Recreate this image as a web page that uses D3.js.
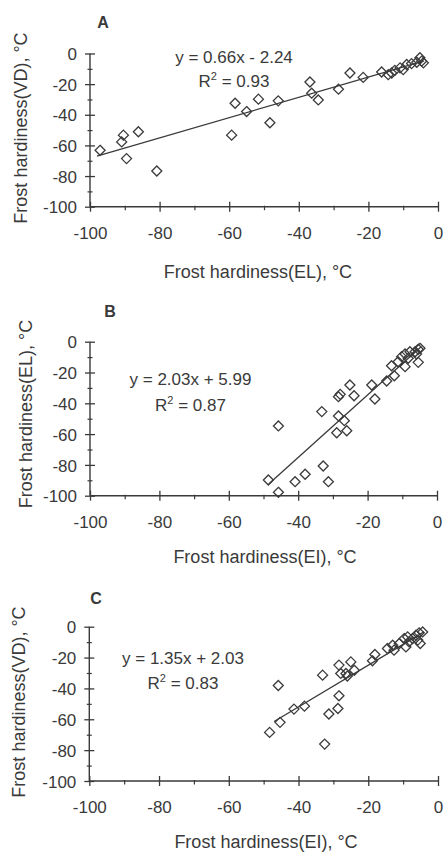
<!DOCTYPE html>
<html><head><meta charset="utf-8">
<script src="https://cdn.jsdelivr.net/npm/d3@7"></script>
<style>
body{margin:0;background:#fff;}
svg{display:block;font-family:"Liberation Sans",Arial,sans-serif;}
</style></head>
<body><svg id="c" width="446" height="852"></svg>
<script>
// ---- data ----
const panelLabels = ["A","B","C"];
const xTitles = ["Frost hardiness(EL), \u00B0C","Frost hardiness(EI), \u00B0C","Frost hardiness(EI), \u00B0C"];
const yTitles = ["Frost hardiness(VD), \u00B0C","Frost hardiness(EL), \u00B0C","Frost hardiness(VD), \u00B0C"];
const xTickValues = [-100,-80,-60,-40,-20,0];
const yTickValues = [0,-20,-40,-60,-80,-100];
const slopes = [0.66, 2.03, 1.35];
const intercepts = [-2.24, 5.99, 2.03];
const eqTexts = ["y = 0.66x - 2.24","y = 2.03x + 5.99","y = 1.35x + 2.03"];
const r2Values = ["0.93","0.87","0.83"];
const fitStart = [-98, -48.5, -47];
const fitEnd = [-4, -4.5, -4];

const aX = [-97.1,-90.4,-90.9,-89.5,-86.1,-80.8,-59.3,-58.3,-55.0,-51.6,-45.9,-48.3,-36.8,-36.3,-34.4,-28.6,-25.3,-21.5,-16.2,-14.3,-12.4,-10.9,-9.0,-7.6,-6.1,-5.2,-4.7,-4.2,-13.3,-10.0];
const aY = [-63.2,-53.3,-57.7,-68.6,-51.1,-76.7,-53.3,-32.5,-37.9,-29.8,-30.9,-45.2,-18.6,-25.9,-30.3,-23.3,-12.7,-15.6,-12.1,-13.8,-11.0,-9.4,-7.2,-6.6,-5.7,-2.8,-5.0,-6.1,-12.7,-10.5];

const bX = [-48.6,-45.7,-45.7,-40.9,-38.0,-32.8,-31.3,-33.2,-28.9,-26.0,-28.4,-26.7,-28.4,-27.9,-25.1,-23.9,-18.8,-17.9,-14.5,-13.1,-12.3,-9.2,-5.4,-11.2,-10.2,-9.2,-8.3,-7.8,-6.3,-5.4,-4.9,-5.9];
const bY = [-89.8,-97.8,-54.7,-90.9,-86.1,-80.7,-90.9,-45.4,-59.1,-57.8,-48.2,-51.3,-35.7,-34.2,-28.1,-35.1,-28.1,-37.2,-25.5,-15.6,-22.1,-16.2,-13.4,-13.0,-9.7,-8.0,-10.8,-6.5,-6.5,-4.9,-4.3,-8.0];

const cX = [-48.3,-45.3,-45.8,-41.3,-38.3,-32.5,-31.3,-28.7,-28.4,-33.1,-28.4,-27.9,-26.4,-26.0,-25.0,-24.0,-18.8,-18.1,-14.5,-12.6,-9.2,-5.1,-13.0,-11.1,-9.7,-8.7,-7.3,-6.3,-5.4,-4.4,-5.8,-8.3];
const cY = [-68.5,-62.0,-38.1,-53.4,-51.5,-76.1,-56.6,-53.0,-44.8,-31.4,-24.9,-30.3,-30.3,-32.0,-22.8,-28.2,-22.1,-18.0,-14.1,-15.2,-13.1,-10.9,-12.0,-10.9,-7.7,-6.6,-7.7,-5.5,-4.0,-3.4,-8.7,-9.8];

const xsData = [aX, bX, cX];
const ysData = [aY, bY, cY];

// ---- layout ----
const frames = [
  {l:90, r:438, t:53.5, b:206.7, lab:[103,28], eq:[234,63], r2y:87, xt:[258,278], yt:[27,128]},
  {l:90, r:437, t:341.7, b:495.7, lab:[110,317], eq:[190.5,385], r2y:410.7, xt:[265,563], yt:[32,414]},
  {l:89.3, r:438, t:626.7, b:781, lab:[96,604], eq:[183,664], r2y:689, xt:[266,848], yt:[25,702]}
];
const ink = "#3a3a3a";
const svg = d3.select("#c");

frames.forEach((f,i)=>{
  const x = d3.scaleLinear().domain([-100,0]).range([f.l,f.r]);
  const y = d3.scaleLinear().domain([-100,0]).range([f.b,f.t]);
  const g = svg.append("g");

  // minor ticks
  const yMinor = g.append("g").attr("transform",`translate(${f.l},0)`)
    .call(d3.axisLeft(y).tickValues(d3.range(-90,0,20)).tickSize(3).tickFormat(""));
  yMinor.select(".domain").remove();
  yMinor.selectAll(".tick line").attr("x1",2.5).attr("x2",-2.5).attr("stroke",ink).attr("stroke-width",1.2);
  const xMinor = g.append("g").attr("transform",`translate(0,${f.b})`)
    .call(d3.axisBottom(x).tickValues(d3.range(-90,0,20)).tickSize(3).tickFormat(""));
  xMinor.select(".domain").remove();
  xMinor.selectAll(".tick line").attr("y1",-1).attr("y2",3.5).attr("stroke",ink).attr("stroke-width",1.2);

  // major axes
  const ya = g.append("g").attr("transform",`translate(${f.l},0)`)
    .call(d3.axisLeft(y).tickValues(yTickValues).tickSize(5).tickPadding(8).tickFormat(d3.format("d")));
  ya.select(".domain").attr("d",`M0,${f.t}V${f.b}`).attr("stroke",ink).attr("stroke-width",1.4);
  ya.selectAll(".tick line").attr("x1",5).attr("x2",-5).attr("stroke",ink).attr("stroke-width",1.3);
  ya.selectAll(".tick text").attr("font-size",17).attr("fill",ink).attr("x",-13).attr("dy","0.36em")
    .text(d=>d===0?"0":"-"+Math.abs(d));

  const xa = g.append("g").attr("transform",`translate(0,${f.b})`)
    .call(d3.axisBottom(x).tickValues(xTickValues).tickSize(5).tickFormat(d3.format("d")));
  xa.select(".domain").attr("d",`M${f.l},0H${f.r}`).attr("stroke",ink).attr("stroke-width",1.4);
  xa.selectAll(".tick line").attr("y1",-5).attr("y2",5).attr("stroke",ink).attr("stroke-width",1.3);
  xa.selectAll(".tick text").attr("font-size",17).attr("fill",ink).attr("y",32).attr("dy",0)
    .text(d=>d===0?"0":"-"+Math.abs(d));

  // fit line
  g.append("line")
    .attr("x1",x(fitStart[i])).attr("y1",y(slopes[i]*fitStart[i]+intercepts[i]))
    .attr("x2",x(fitEnd[i])).attr("y2",y(slopes[i]*fitEnd[i]+intercepts[i]))
    .attr("stroke",ink).attr("stroke-width",1.3);

  // points
  const pts = xsData[i].map((v,k)=>[v, ysData[i][k]]);
  const s = 5;
  g.append("g").selectAll("path").data(pts).join("path")
    .attr("d",d=>{const cx=x(d[0]), cy=y(d[1]); return `M${cx},${cy-s}L${cx+s},${cy}L${cx},${cy+s}L${cx-s},${cy}Z`;})
    .attr("fill","none").attr("stroke",ink).attr("stroke-width",1.3);

  // texts
  g.append("text").attr("x",f.lab[0]).attr("y",f.lab[1]).attr("text-anchor","middle")
    .attr("font-size",16).attr("font-weight","bold").attr("fill",ink).text(panelLabels[i]);
  g.append("text").attr("x",f.eq[0]).attr("y",f.eq[1]).attr("text-anchor","middle")
    .attr("font-size",17).attr("fill",ink).text(eqTexts[i]);
  const r2 = g.append("text").attr("x",f.eq[0]).attr("y",f.r2y).attr("text-anchor","middle")
    .attr("font-size",17).attr("fill",ink);
  r2.append("tspan").text("R");
  r2.append("tspan").attr("font-size",11).attr("dy",-7).text("2");
  r2.append("tspan").attr("dy",7).text(" = "+r2Values[i]);
  g.append("text").attr("x",f.xt[0]).attr("y",f.xt[1]).attr("text-anchor","middle")
    .attr("font-size",18).attr("fill",ink).text(xTitles[i]);
  g.append("text").attr("transform",`translate(${f.yt[0]},${f.yt[1]}) rotate(-90)`).attr("text-anchor","middle")
    .attr("font-size",18).attr("fill",ink).text(yTitles[i]);
});
</script></body></html>
